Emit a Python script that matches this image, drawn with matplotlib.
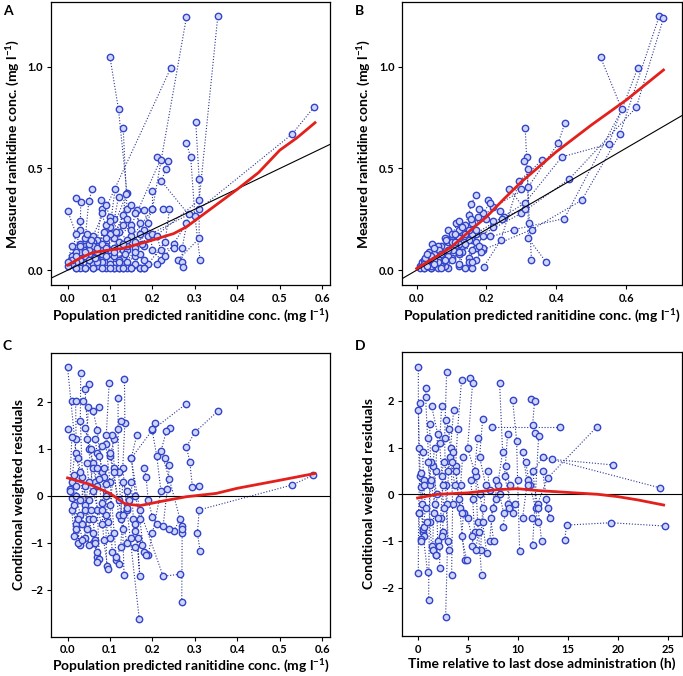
import numpy as np
import matplotlib
matplotlib.use("Agg")
import matplotlib.pyplot as plt

plt.rcParams['font.family'] = ['Lato', 'DejaVu Sans']
plt.rcParams['font.weight'] = 'bold'
plt.rcParams['mathtext.default'] = 'regular'

# ---- Panel A: population predicted (x) vs measured (y), grouped by subject
a_x = [
    [0.10, 0.12, 0.14, 0.09, 0.05], [0.28, 0.20, 0.13, 0.07], [0.354, 0.31, 0.18, 0.10],
    [0.243, 0.06, 0.03, 0.02], [0.131, 0.14, 0.08, 0.04], [0.302, 0.31, 0.31, 0.26],
    [0.58, 0.529, 0.31, 0.16, 0.08], [0.28, 0.29, 0.30, 0.312],
    [0.21, 0.219, 0.15, 0.07], [0.236, 0.231, 0.221, 0.285, 0.27, 0.27, 0.271],
    [0.112, 0.10, 0.06, 0.03], [0.058, 0.05, 0.04, 0.02], [0.138, 0.13, 0.11, 0.05],
    [0.021, 0.031, 0.03, 0.01], [0.079, 0.08, 0.07, 0.03], [0.0, 0.02, 0.01, 0.0],
    [0.20, 0.20, 0.18, 0.16, 0.12], [0.225, 0.24, 0.23, 0.19, 0.15], [0.164, 0.17, 0.14, 0.10],
    [0.18, 0.19, 0.20, 0.22, 0.18], [0.28, 0.25, 0.23, 0.21], [0.03, 0.04, 0.03, 0.02],
    [0.08, 0.09, 0.07, 0.05, 0.04], [0.12, 0.11, 0.12, 0.08, 0.06], [0.06, 0.07, 0.05, 0.06],
    [0.10, 0.09, 0.10, 0.09], [0.15, 0.14, 0.13, 0.13], [0.04, 0.03, 0.05, 0.04],
    [0.11, 0.12, 0.10, 0.11], [0.17, 0.16, 0.14, 0.17], [0.01, 0.02, 0.01, 0.0],
    [0.07, 0.08, 0.06, 0.05], [0.13, 0.12, 0.14, 0.11], [0.09, 0.10, 0.085, 0.07],
    [0.19, 0.175, 0.16, 0.14],
    [0.03, 0.05, 0.07, 0.09, 0.11], [0.06, 0.08, 0.10, 0.12, 0.14], [0.13, 0.15, 0.17, 0.18],
    [0.02, 0.04, 0.05, 0.07], [0.08, 0.09, 0.11, 0.12], [0.14, 0.15, 0.16, 0.18],
    [0.045, 0.055, 0.065], [0.10, 0.115, 0.13, 0.135], [0.20, 0.21, 0.22, 0.25],
    [0.15, 0.16, 0.17],
]
a_y = [
    [1.046, 0.79, 0.38, 0.12, 0.03], [1.243, 0.30, 0.10, 0.02], [1.25, 0.344, 0.12, 0.05],
    [0.993, 0.17, 0.05, 0.01], [0.70, 0.30, 0.06, 0.01], [0.726, 0.448, 0.156, 0.05],
    [0.80, 0.669, 0.30, 0.14, 0.04], [0.623, 0.557, 0.266, 0.052],
    [0.554, 0.544, 0.22, 0.08], [0.536, 0.495, 0.438, 0.274, 0.11, 0.041, 0.016],
    [0.40, 0.21, 0.10, 0.02], [0.398, 0.34, 0.12, 0.04], [0.377, 0.27, 0.16, 0.06],
    [0.357, 0.336, 0.20, 0.03], [0.344, 0.30, 0.15, 0.01], [0.292, 0.18, 0.07, 0.02],
    [0.388, 0.30, 0.20, 0.07, 0.01], [0.30, 0.30, 0.14, 0.03, 0.01], [0.295, 0.18, 0.10, 0.02],
    [0.295, 0.23, 0.10, 0.05, 0.01], [0.23, 0.13, 0.07, 0.03], [0.24, 0.16, 0.09, 0.01],
    [0.28, 0.22, 0.12, 0.05, 0.01], [0.36, 0.25, 0.14, 0.08, 0.01], [0.14, 0.11, 0.08, 0.03],
    [0.18, 0.16, 0.10, 0.01], [0.17, 0.12, 0.06, 0.01], [0.10, 0.13, 0.12, 0.07],
    [0.07, 0.05, 0.03, 0.01], [0.08, 0.03, 0.02, 0.01], [0.05, 0.09, 0.12, 0.04],
    [0.05, 0.10, 0.12, 0.10], [0.22, 0.19, 0.15, 0.11], [0.32, 0.26, 0.19, 0.09],
    [0.17, 0.13, 0.11, 0.04],
    [0.12, 0.13, 0.11, 0.07, 0.01], [0.01, 0.01, 0.01, 0.01, 0.01], [0.01, 0.01, 0.01, 0.01],
    [0.07, 0.09, 0.05, 0.04], [0.13, 0.11, 0.09, 0.04], [0.25, 0.20, 0.09, 0.05],
    [0.18, 0.15, 0.06], [0.24, 0.19, 0.13, 0.08], [0.18, 0.17, 0.10, 0.11],
    [0.32, 0.28, 0.23],
]
a_fit_x = [0.0, 0.03, 0.06, 0.10, 0.13, 0.20, 0.25, 0.28, 0.343, 0.40, 0.45, 0.50, 0.54, 0.583]
a_fit_y = [0.025, 0.06, 0.087, 0.10, 0.107, 0.148, 0.18, 0.213, 0.31, 0.398, 0.48, 0.59, 0.65, 0.725]

# ---- Panel B
b_x = [
    [0.695, 0.582, 0.473, 0.33, 0.19], [0.707, 0.629, 0.437, 0.30, 0.16],
    [0.527, 0.588, 0.423, 0.28, 0.13], [0.633, 0.55, 0.416, 0.31, 0.17],
    [0.425, 0.405, 0.32, 0.22, 0.12], [0.311, 0.315, 0.323, 0.329],
    [0.308, 0.318, 0.32, 0.372], [0.359, 0.294, 0.241, 0.192], [0.30, 0.266, 0.309, 0.25],
    [0.169, 0.157, 0.14, 0.10, 0.06], [0.204, 0.21, 0.19, 0.16, 0.12],
    [0.114, 0.12, 0.10, 0.07, 0.04], [0.18, 0.175, 0.15, 0.11, 0.08],
    [0.08, 0.09, 0.07, 0.05, 0.03], [0.035, 0.04, 0.03, 0.02], [0.06, 0.065, 0.05, 0.055],
    [0.13, 0.14, 0.12, 0.10, 0.09], [0.16, 0.17, 0.15, 0.13, 0.12],
    [0.20, 0.22, 0.19, 0.17, 0.15, 0.16], [0.19, 0.185, 0.17, 0.14], [0.01, 0.015, 0.02, 0.01],
    [0.045, 0.05, 0.04, 0.03], [0.09, 0.10, 0.085, 0.07, 0.06], [0.11, 0.105, 0.09, 0.08],
    [0.15, 0.155, 0.14, 0.12], [0.24, 0.245, 0.22, 0.21], [0.075, 0.07, 0.06, 0.05],
    [0.17, 0.18, 0.16, 0.15], [0.025, 0.03, 0.02, 0.04], [0.12, 0.13, 0.11, 0.10],
    [0.02, 0.04, 0.06, 0.08], [0.05, 0.07, 0.09, 0.11], [0.10, 0.12, 0.14, 0.16],
    [0.03, 0.05, 0.07],
]
b_y = [
    [1.25, 0.669, 0.344, 0.20, 0.10], [1.238, 0.80, 0.448, 0.28, 0.15],
    [1.046, 0.79, 0.254, 0.20, 0.12], [0.993, 0.62, 0.557, 0.33, 0.18],
    [0.725, 0.623, 0.41, 0.31, 0.16], [0.70, 0.557, 0.233, 0.052],
    [0.536, 0.495, 0.156, 0.038], [0.541, 0.438, 0.148, 0.016], [0.397, 0.398, 0.303, 0.26],
    [0.372, 0.325, 0.22, 0.11, 0.03], [0.344, 0.33, 0.28, 0.18, 0.02],
    [0.233, 0.24, 0.17, 0.09, 0.01], [0.30, 0.26, 0.20, 0.14, 0.05],
    [0.16, 0.14, 0.12, 0.07, 0.02], [0.09, 0.06, 0.04, 0.01], [0.12, 0.10, 0.08, 0.03],
    [0.19, 0.17, 0.13, 0.06, 0.01], [0.23, 0.20, 0.15, 0.09, 0.03],
    [0.25, 0.24, 0.17, 0.11, 0.06, 0.01], [0.11, 0.09, 0.05, 0.01], [0.02, 0.04, 0.05, 0.01],
    [0.13, 0.11, 0.07, 0.03], [0.20, 0.18, 0.15, 0.05, 0.01], [0.12, 0.10, 0.07, 0.02],
    [0.27, 0.25, 0.18, 0.08], [0.29, 0.25, 0.21, 0.17], [0.04, 0.02, 0.06, 0.05],
    [0.14, 0.12, 0.10, 0.04], [0.06, 0.08, 0.03, 0.01], [0.20, 0.21, 0.18, 0.14],
    [0.01, 0.02, 0.04, 0.05], [0.05, 0.08, 0.10, 0.14], [0.05, 0.09, 0.13, 0.04],
    [0.02, 0.03, 0.01],
]
b_fit_x = [0.0, 0.05, 0.10, 0.15, 0.20, 0.25, 0.30, 0.40, 0.50, 0.60, 0.707]
b_fit_y = [0.008, 0.06, 0.115, 0.19, 0.262, 0.35, 0.434, 0.582, 0.713, 0.836, 0.984]

# ---- Panel C: population predicted (x) vs CWRES (y)
c_x = [
    [0.0, 0.02, 0.04, 0.06], [0.031, 0.03, 0.035, 0.05, 0.07], [0.134, 0.135, 0.13, 0.14, 0.169],
    [0.098, 0.09, 0.10, 0.11, 0.115], [0.051, 0.041, 0.05, 0.06, 0.08],
    [0.119, 0.119, 0.12, 0.13, 0.133], [0.28, 0.20, 0.15, 0.17, 0.225, 0.265],
    [0.011, 0.019, 0.02, 0.01, 0.02, 0.03], [0.037, 0.049, 0.045, 0.06, 0.05, 0.04],
    [0.075, 0.06, 0.07, 0.08, 0.09, 0.092], [0.355, 0.30, 0.28, 0.288, 0.294, 0.31],
    [0.127, 0.11, 0.10, 0.12, 0.14, 0.16], [0.206, 0.199, 0.21, 0.22, 0.20, 0.19],
    [0.241, 0.233, 0.22, 0.24, 0.269, 0.27], [0.002, 0.01, 0.005, 0.01, 0.02],
    [0.163, 0.15, 0.16, 0.17, 0.18], [0.579, 0.529, 0.31, 0.306, 0.312],
    [0.269, 0.27, 0.265, 0.25], [0.025, 0.03, 0.02, 0.03, 0.025],
    [0.065, 0.07, 0.065, 0.07, 0.075], [0.085, 0.09, 0.08, 0.085, 0.095],
    [0.045, 0.05, 0.04, 0.035], [0.105, 0.11, 0.10, 0.105, 0.12],
    [0.15, 0.155, 0.165, 0.17, 0.16], [0.14, 0.145, 0.13, 0.125],
    [0.18, 0.185, 0.19, 0.20, 0.21], [0.23, 0.24, 0.235, 0.225, 0.24],
    [0.015, 0.02, 0.01, 0.015], [0.055, 0.06, 0.065, 0.07], [0.08, 0.075, 0.085, 0.09, 0.095],
    [0.005, 0.015, 0.025, 0.035], [0.04, 0.055, 0.06, 0.07], [0.07, 0.075, 0.08, 0.10],
    [0.09, 0.10, 0.11, 0.12], [0.03, 0.04, 0.045, 0.05], [0.115, 0.125, 0.13, 0.14],
    [0.15, 0.16, 0.175, 0.185], [0.06, 0.065, 0.07],
]
c_y = [
    [2.73, 0.9, -0.2, -1.0], [2.62, 1.6, 0.4, -0.5, -1.3], [2.48, 1.55, 0.6, -0.3, -2.63],
    [2.40, 1.1, 0.3, -0.8, -1.37], [2.38, 2.28, 1.0, 0.1, -0.6],
    [2.07, 1.43, 0.5, -0.7, -1.69], [1.96, 1.4, 0.8, -0.3, -1.71, -1.67],
    [2.02, 2.01, 1.2, 0.3, -0.6, -1.05], [2.02, 1.88, 1.2, 0.7, -0.1, -0.9],
    [1.89, 1.81, 1.4, 0.5, -0.4, -1.5], [1.81, 1.35, 1.04, 0.72, 0.19, 0.21],
    [1.59, 1.2, 0.85, -0.1, -1.0, -1.1], [1.54, 1.41, 0.85, 0.1, -0.8, -1.25],
    [1.45, 1.38, 0.95, 0.35, -0.64, -0.8], [1.43, 1.25, 0.15, -0.05, -0.7],
    [1.29, 0.8, 0.0, -0.5, -1.2], [0.44, 0.23, -0.3, -0.79, -1.17],
    [-2.26, -0.7, -0.5, -0.75], [0.8, 0.5, 0.0, -0.4, -1.0],
    [1.2, 0.9, 0.3, -0.3, -1.35], [0.6, 0.25, -0.15, -0.95, -1.55],
    [0.7, 0.3, -0.3, -0.6], [1.3, 0.6, -0.2, -1.2, -1.45],
    [0.3, -0.5, -0.9, -1.7, -0.6], [-0.25, -0.1, 0.3, -0.5],
    [0.6, 0.4, -0.1, -0.45, -0.6], [0.8, 0.65, 0.15, -0.65, -0.7],
    [0.45, 0.2, -0.3, -0.85], [-0.3, -0.5, -0.95, -1.2], [1.05, 0.85, 0.4, 0.0, -0.55],
    [0.1, -0.2, -0.5, -0.95], [1.45, 1.0, 0.6, 0.2], [0.6, 0.35, -0.3, -0.9],
    [1.3, 0.9, 0.5, -0.4], [-0.1, 0.2, -0.7, -1.05], [-1.3, -1.1, -0.4, 0.1],
    [-0.9, -0.75, -1.05, -1.25], [-0.8, -1.0, -1.4],
]
c_fit_x = [0.0, 0.05, 0.10, 0.135, 0.17, 0.22, 0.28, 0.35, 0.40, 0.50, 0.583]
c_fit_y = [0.38, 0.25, 0.05, -0.17, -0.21, -0.12, -0.02, 0.05, 0.16, 0.33, 0.475]

# ---- Panel D: time after last dose (x) vs CWRES (y)
d_x = [
    [0.07, 0.1, 0.2, 0.1, 0.07], [2.9, 2.7, 2.8, 3.0, 2.8], [5.2, 5.5, 5.0, 5.8, 6.0, 6.4],
    [4.4, 4.0, 3.8, 4.2, 4.7], [8.2, 8.5, 8.0, 7.5, 7.2], [0.8, 0.8, 1.0, 1.2, 1.1],
    [0.2, 0.07, 0.3, 0.5, 1.0], [9.5, 9.9, 10.0, 10.2], [11.3, 11.7, 11.5, 11.7, 12.1, 11.5],
    [1.4, 2.0, 1.8, 1.6, 1.5], [2.4, 2.2, 2.5, 2.3, 2.2], [3.6, 3.3, 3.5, 3.4],
    [6.5, 6.2, 6.8, 6.5, 6.9], [7.4, 14.2], [17.9, 13.0, 12.0, 12.4], [13.4, 19.5],
    [24.2, 12.5, 11.0, 10.5], [24.7, 19.3, 14.9, 14.7], [0.5, 0.6, 0.4, 0.6],
    [1.7, 1.5, 1.9, 2.0, 1.8], [3.0, 3.2, 2.9, 3.1], [4.5, 4.3, 4.6, 4.4, 4.9],
    [5.3, 5.5, 5.7, 5.4], [7.0, 7.2, 7.8, 7.3, 7.6], [8.8, 9.2, 9.0, 8.5],
    [10.8, 11.2, 11.8, 12.0, 11.4], [12.5, 13.0, 13.2, 12.8], [0.3, 0.6, 0.8, 0.5, 0.3],
    [2.6, 2.4, 2.6, 2.5], [6.0, 5.7, 6.2, 6.5, 6.3], [1.2, 1.3, 1.2, 1.4], [9.0, 8.7, 9.5, 9.7],
    [0.1, 0.3, 0.6, 0.9], [1.5, 1.8, 2.1, 2.4], [3.5, 3.8, 4.1, 4.4], [5.0, 5.4, 5.8, 6.1],
    [7.8, 8.2, 8.6, 9.1], [10.5, 11.0, 11.5, 12.0], [1.0, 1.3, 1.7, 2.0], [2.8, 3.1, 3.4, 3.7],
]
d_y = [
    [2.72, 1.0, 0.4, -0.4, -1.69], [2.63, 1.2, 0.2, -1.0, -2.64], [2.49, 2.39, 1.0, 0.4, -0.6, -1.73],
    [2.46, 1.4, 0.6, -0.3, -1.41], [2.38, 0.9, 0.2, -0.3, -1.0], [2.27, 2.08, 1.2, 0.2, -2.26],
    [1.96, 1.81, 0.15, -0.8, -1.67], [2.02, 1.15, 0.3, -1.21], [2.04, 2.01, 1.49, 1.31, 1.24, -1.09],
    [1.89, 1.3, 0.5, -0.4, -1.2], [1.89, 1.1, 0.2, -0.5, -1.59], [1.81, 1.0, -0.2, -1.73],
    [1.61, 0.8, 0.2, -0.6, -1.26], [1.44, 1.44], [1.44, 0.35, -0.2, -1.01], [0.75, 0.63],
    [0.14, 0.8, 0.3, -0.5], [-0.68, -0.61, -0.66, -0.98], [0.9, 0.3, -0.2, -0.9],
    [1.0, 0.6, 0.0, -1.0, -1.3], [0.5, 0.8, -0.2, -1.2], [0.8, 0.2, -0.4, -0.9, -1.4],
    [0.3, -0.1, -0.8, -1.1], [0.5, 0.1, -0.1, -0.5, -1.0], [0.6, 0.2, -0.2, -0.7],
    [0.7, 0.2, -0.3, -0.6, -0.5], [0.5, -0.3, -0.5, -0.1], [0.45, 0.2, -0.3, -0.75, -0.95],
    [0.7, 0.4, -0.3, -0.8], [1.2, 0.5, 0.0, -0.3, -1.2], [1.5, 0.7, -0.6, -1.1], [1.3, 0.4, -0.4, -0.2],
    [-0.4, -1.0, -0.7, -0.6], [-1.2, -1.3, -1.1, -0.9], [0.9, 0.5, -0.1, -0.4], [-0.5, -0.9, -1.2, -0.8],
    [0.3, 0.0, -0.4, -0.3], [0.9, 0.2, 0.5, -0.3], [0.7, 0.3, -0.2, -0.5], [1.6, 1.4, 0.7, 0.2],
]
d_fit_x = [0.0, 2, 5, 8, 10, 12, 15, 18, 20, 22, 24.6]
d_fit_y = [-0.08, 0.0, 0.03, 0.1, 0.12, 0.08, 0.04, 0.0, -0.05, -0.12, -0.23]

fig = plt.figure(figsize=(6.83, 6.76), dpi=100)
axA = fig.add_axes([0.0747, 0.578, 0.4083, 0.419])
axB = fig.add_axes([0.589, 0.578, 0.409, 0.419])
axC = fig.add_axes([0.0747, 0.058, 0.4083, 0.420])
axD = fig.add_axes([0.588, 0.059, 0.410, 0.421])

pt_edge = '#3344cc'
pt_face = '#d0d6f4'
ln_col = '#2a3590'
red = '#e3201b'


def draw(ax, xs, ys, fx, fy):
    for gx, gy in zip(xs, ys):
        ax.plot(gx, gy, color=ln_col, lw=0.8, ls=(0, (1, 1.6)), zorder=2)
        ax.plot(gx, gy, ls='none', marker='o', ms=4.6, mew=1.0,
                mec=pt_edge, mfc=pt_face, zorder=3)
    ax.plot(fx, fy, color=red, lw=2, zorder=5)
    for s in ax.spines.values():
        s.set_linewidth(0.9)
    ax.tick_params(labelsize=8, length=3, width=0.8, direction='out', pad=2.5)


conc_x = 'Population predicted ranitidine conc. (mg l$^{-1}$)'
conc_y = 'Measured ranitidine conc. (mg l$^{-1}$)'
fmt1 = matplotlib.ticker.FormatStrFormatter('%.1f')

draw(axA, a_x, a_y, a_fit_x, a_fit_y)
axA.axline((0, 0), slope=1, color='black', lw=0.8, zorder=4)
axA.set_xlim(-0.039, 0.618)
axA.set_ylim(-0.074, 1.318)
axA.set_xticks([0.0, 0.1, 0.2, 0.3, 0.4, 0.5, 0.6])
axA.set_yticks([0.0, 0.5, 1.0])
axA.xaxis.set_major_formatter(fmt1)
axA.yaxis.set_major_formatter(fmt1)
axA.set_xlabel(conc_x, fontsize=10, fontweight='bold', labelpad=3)
axA.set_ylabel(conc_y, fontsize=10, fontweight='bold')

draw(axB, b_x, b_y, b_fit_x, b_fit_y)
axB.axline((0, 0), slope=1, color='black', lw=0.8, zorder=4)
axB.set_xlim(-0.041, 0.759)
axB.set_ylim(-0.074, 1.318)
axB.set_xticks([0.0, 0.2, 0.4, 0.6])
axB.set_yticks([0.0, 0.5, 1.0])
axB.xaxis.set_major_formatter(fmt1)
axB.yaxis.set_major_formatter(fmt1)
axB.set_xlabel(conc_x, fontsize=10, fontweight='bold', labelpad=3)
axB.set_ylabel(conc_y, fontsize=10, fontweight='bold')

draw(axC, c_x, c_y, c_fit_x, c_fit_y)
axC.axhline(0, color='black', lw=0.8, zorder=4)
axC.set_xlim(-0.039, 0.618)
axC.set_ylim(-3.0, 3.04)
axC.set_xticks([0.0, 0.1, 0.2, 0.3, 0.4, 0.5, 0.6])
axC.set_yticks([-2, -1, 0, 1, 2])
axC.set_yticklabels(['\u22122', '\u22121', '0', '1', '2'])
axC.xaxis.set_major_formatter(fmt1)
axC.set_xlabel(conc_x, fontsize=10, fontweight='bold', labelpad=2)
axC.set_ylabel('Conditional weighted residuals', fontsize=10, fontweight='bold')

draw(axD, d_x, d_y, d_fit_x, d_fit_y)
axD.axhline(0, color='black', lw=0.8, zorder=4)
axD.set_xlim(-1.6, 26.4)
axD.set_ylim(-3.04, 3.06)
axD.set_xticks([0, 5, 10, 15, 20, 25])
axD.set_yticks([-2, -1, 0, 1, 2])
axD.set_yticklabels(['\u22122', '\u22121', '0', '1', '2'])
axD.set_xlabel('Time relative to last dose administration (h)', fontsize=10,
               fontweight='bold', labelpad=2)
axD.set_ylabel('Conditional weighted residuals', fontsize=10, fontweight='bold')

for ax in (axA, axB, axC, axD):
    for lab in ax.get_xticklabels() + ax.get_yticklabels():
        lab.set_fontweight('bold')

fig.text(0.004, 0.993, 'A', fontsize=10, fontweight='bold', va='top')
fig.text(0.52, 0.993, 'B', fontsize=10, fontweight='bold', va='top')
fig.text(0.004, 0.497, 'C', fontsize=10, fontweight='bold', va='top')
fig.text(0.52, 0.497, 'D', fontsize=10, fontweight='bold', va='top')

fig.savefig('out.png', dpi=100)
